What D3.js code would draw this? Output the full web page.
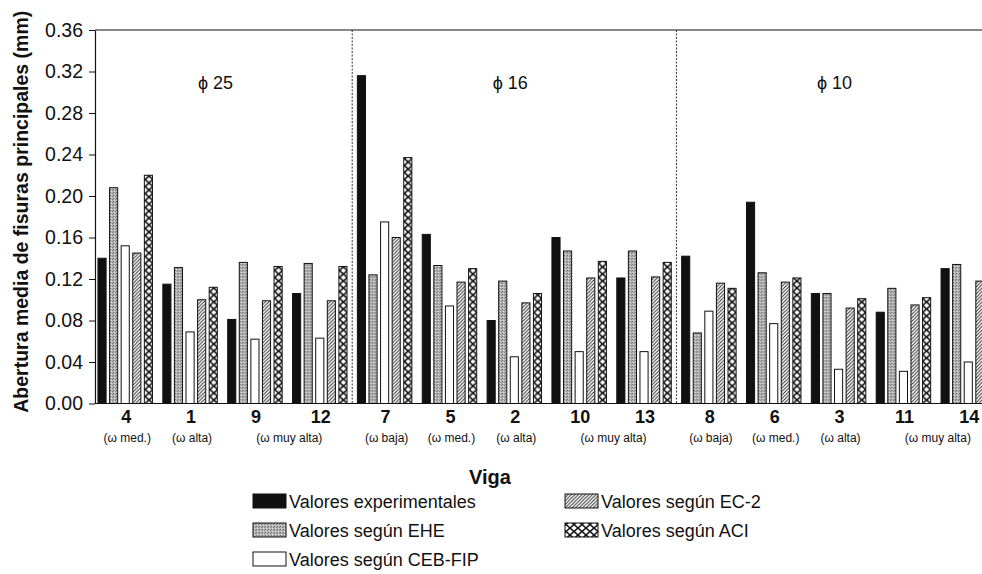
<!DOCTYPE html>
<html>
<head>
<meta charset="utf-8">
<script src="https://cdn.jsdelivr.net/npm/d3@7/dist/d3.min.js"></script>
<style>
  html, body { margin: 0; padding: 0; background: #fff; }
  svg { display: block; font-family: "Liberation Sans", Arial, sans-serif; }
</style>
</head>
<body>
<svg id="chart" width="982" height="574"></svg>
<script>
// Beams (vigas), ordered as on the axis
const categories = ["4", "1", "9", "12", "7", "5", "2", "10", "13", "8", "6", "3", "11", "14"];
// Reinforcement ratio label under each beam
const omegaLabels = ["(ω med.)", "(ω alta)", "(ω muy alta)", "(ω muy alta)",
                     "(ω baja)", "(ω med.)", "(ω alta)", "(ω muy alta)", "(ω muy alta)",
                     "(ω baja)", "(ω med.)", "(ω alta)", "(ω muy alta)", "(ω muy alta)"];
// Bar diameter of each beam
const diameters = ["25", "25", "25", "25", "16", "16", "16", "16", "16", "10", "10", "10", "10", "10"];

const seriesNames = ["Valores experimentales", "Valores según EHE", "Valores según CEB-FIP",
                     "Valores según EC-2", "Valores según ACI"];

// Mean crack width (mm)
const experimental = [0.140, 0.115, 0.081, 0.106, 0.316, 0.163, 0.080, 0.160, 0.121, 0.142, 0.194, 0.106, 0.088, 0.130];
const ehe          = [0.208, 0.131, 0.136, 0.135, 0.124, 0.133, 0.118, 0.147, 0.147, 0.068, 0.126, 0.106, 0.111, 0.134];
const cebFip       = [0.152, 0.069, 0.062, 0.063, 0.175, 0.094, 0.045, 0.050, 0.050, 0.089, 0.077, 0.033, 0.031, 0.040];
const ec2          = [0.145, 0.100, 0.099, 0.099, 0.160, 0.117, 0.097, 0.121, 0.122, 0.116, 0.117, 0.092, 0.095, 0.118];
const aci          = [0.220, 0.112, 0.132, 0.132, 0.237, 0.130, 0.106, 0.137, 0.136, 0.111, 0.121, 0.101, 0.102, null];

const yTicks = [0, 0.04, 0.08, 0.12, 0.16, 0.20, 0.24, 0.28, 0.32, 0.36];

const seriesValues = [experimental, ehe, cebFip, ec2, aci];
const seriesKeys = ["exp", "ehe", "ceb", "ec2", "aci"];

const svg = d3.select("#chart");
const defs = svg.append("defs");

// Fill patterns
const pEhe = defs.append("pattern").attr("id", "p-ehe")
  .attr("patternUnits", "userSpaceOnUse").attr("width", 3).attr("height", 3);
pEhe.append("rect").attr("width", 3).attr("height", 3).attr("fill", "#b4b4b4");
pEhe.append("rect").attr("x", 0).attr("y", 0).attr("width", 1).attr("height", 1).attr("fill", "#6a6a6a");
pEhe.append("rect").attr("x", 2).attr("y", 1).attr("width", 1).attr("height", 1).attr("fill", "#808080");
pEhe.append("rect").attr("x", 1).attr("y", 2).attr("width", 1).attr("height", 1).attr("fill", "#e0e0e0");

const pEc2 = defs.append("pattern").attr("id", "p-ec2")
  .attr("patternUnits", "userSpaceOnUse").attr("width", 3.5).attr("height", 3.5);
pEc2.append("rect").attr("width", 3.5).attr("height", 3.5).attr("fill", "#fff");
pEc2.append("path").attr("d", "M-1,1 L1,-1 M0,3.5 L3.5,0 M2.5,4.5 L4.5,2.5")
  .attr("stroke", "#222").attr("stroke-width", 0.9);

const margin = { left: 95, top: 30, bottom: 403.5 };

const x = d3.scaleBand().domain(categories)
  .range([margin.left, 998.5]).paddingInner(0.16).paddingOuter(0.046);
const xs = d3.scaleBand().domain(seriesKeys)
  .range([0, x.bandwidth()]).paddingInner(0.3).paddingOuter(0);
const y = d3.scaleLinear().domain([0, 0.36]).range([margin.bottom, margin.top]);

// Crosshatch tiles aligned to each ACI bar
categories.forEach((c, i) => {
  const w = xs.bandwidth(), h = 7;
  const p = defs.append("pattern").attr("id", "p-aci-" + i)
    .attr("patternUnits", "userSpaceOnUse")
    .attr("x", x(c) + xs("aci")).attr("y", margin.bottom)
    .attr("width", w).attr("height", h);
  p.append("rect").attr("width", w).attr("height", h).attr("fill", "#fff");
  p.append("path").attr("d", `M0,0 L${w},${h} M${w},0 L0,${h}`)
    .attr("stroke", "#111").attr("stroke-width", 1.7);
});

const fills = {
  exp: () => "#111",
  ehe: () => "url(#p-ehe)",
  ceb: () => "#fff",
  ec2: () => "url(#p-ec2)",
  aci: i => "url(#p-aci-" + i + ")"
};

// Bars
const groups = svg.append("g").selectAll("g").data(categories).join("g")
  .attr("transform", d => `translate(${x(d)},0)`);

groups.each(function (c, i) {
  const g = d3.select(this);
  const rows = seriesKeys.map((k, s) => ({ key: k, value: seriesValues[s][i] }))
    .filter(d => d.value != null);
  g.selectAll("rect").data(rows).join("rect")
    .attr("x", d => xs(d.key))
    .attr("width", xs.bandwidth())
    .attr("y", d => y(d.value))
    .attr("height", d => y(0) - y(d.value))
    .attr("fill", d => fills[d.key](i))
    .attr("stroke", "#111")
    .attr("stroke-width", 1);
});

// Frame: top border and bottom axis line
svg.append("line").attr("x1", margin.left).attr("x2", 982)
  .attr("y1", margin.top).attr("y2", margin.top).attr("stroke", "#111").attr("stroke-width", 1.2);
svg.append("line").attr("x1", margin.left).attr("x2", 982)
  .attr("y1", margin.bottom).attr("y2", margin.bottom).attr("stroke", "#111").attr("stroke-width", 1.2);

// Y axis
const yAxis = svg.append("g").attr("transform", `translate(${margin.left},0)`)
  .call(d3.axisLeft(y).tickValues(yTicks).tickFormat(d3.format(".2f")).tickSize(6).tickSizeOuter(0));
yAxis.select(".domain").attr("stroke", "#111").attr("stroke-width", 1.2);
yAxis.selectAll(".tick line").attr("stroke", "#111");
yAxis.selectAll(".tick text").attr("font-size", 19.5).attr("fill", "#111")
  .attr("font-family", "Liberation Sans, Arial, sans-serif").attr("x", -12);

svg.append("text")
  .attr("transform", `translate(28,${(margin.top + margin.bottom) / 2 - 5}) rotate(-90)`)
  .attr("text-anchor", "middle").attr("font-size", 19.5).attr("font-weight", "bold").attr("fill", "#111")
  .text("Abertura media de fisuras principales (mm)");

// Diameter sections: dotted separators and labels
const diamOrder = Array.from(new Set(diameters));
const gap = x.step() - x.bandwidth();
const sections = diamOrder.map(dm => {
  const cats = categories.filter((c, i) => diameters[i] === dm);
  return { dm, first: cats[0], last: cats[cats.length - 1] };
});
sections.forEach((s, k) => {
  const left = k === 0 ? margin.left : x(s.first) - gap / 2;
  const right = Math.min(x(s.last) + x.bandwidth() + gap / 2, 1001);
  if (k > 0) {
    svg.append("line").attr("x1", left).attr("x2", left)
      .attr("y1", margin.top).attr("y2", margin.bottom)
      .attr("stroke", "#333").attr("stroke-width", 1).attr("stroke-dasharray", "2,1.5");
  }
  svg.append("text").attr("x", (left + right) / 2 - (k === 0 ? 8 : 4)).attr("y", 89)
    .attr("text-anchor", "middle").attr("font-size", 18).attr("fill", "#111")
    .text("ϕ " + s.dm);
});

// Category labels
svg.append("g").selectAll("text").data(categories).join("text")
  .attr("x", d => x(d) + x.bandwidth() / 2 + 1)
  .attr("y", 423)
  .attr("text-anchor", "middle").attr("font-size", 18).attr("font-weight", "bold").attr("fill", "#111")
  .text(d => d);

// Omega labels: consecutive equal labels share one centred caption
const runs = [];
omegaLabels.forEach((t, i) => {
  const last = runs[runs.length - 1];
  if (last && last.text === t && diameters[last.end] === diameters[i]) last.end = i;
  else runs.push({ text: t, start: i, end: i });
});
svg.append("g").selectAll("text").data(runs).join("text")
  .attr("x", d => (x(categories[d.start]) + x(categories[d.end]) + x.bandwidth()) / 2 + 2)
  .attr("y", 442)
  .attr("text-anchor", "middle").attr("font-size", 12).attr("fill", "#111")
  .text(d => d.text);

// X axis title
svg.append("text").attr("x", 490).attr("y", 484)
  .attr("text-anchor", "middle").attr("font-size", 20).attr("font-weight", "bold").attr("fill", "#111")
  .text("Viga");

// Legend
const legendPos = [
  { x: 253, y: 494 }, { x: 253, y: 523 }, { x: 253, y: 552 },
  { x: 565, y: 494 }, { x: 565, y: 523 }
];
const legend = svg.append("g").selectAll("g").data(seriesKeys).join("g")
  .attr("transform", (d, i) => `translate(${legendPos[i].x},${legendPos[i].y})`);
legend.append("rect").attr("width", 33).attr("height", 14)
  .attr("fill", d => d === "aci" ? "url(#p-aci-leg)" : fills[d](0))
  .attr("stroke", "#111").attr("stroke-width", 1);
legend.append("text").attr("x", 36).attr("y", 14)
  .attr("font-size", 18).attr("fill", "#111")
  .text((d, i) => seriesNames[i]);

// Crosshatch tile for the legend swatch
{
  const w = 8, h = 7;
  const p = defs.append("pattern").attr("id", "p-aci-leg")
    .attr("patternUnits", "userSpaceOnUse").attr("x", 565).attr("y", 523)
    .attr("width", w).attr("height", h);
  p.append("rect").attr("width", w).attr("height", h).attr("fill", "#fff");
  p.append("path").attr("d", `M0,0 L${w},${h} M${w},0 L0,${h}`)
    .attr("stroke", "#111").attr("stroke-width", 1.5);
}
</script>
</body>
</html>
